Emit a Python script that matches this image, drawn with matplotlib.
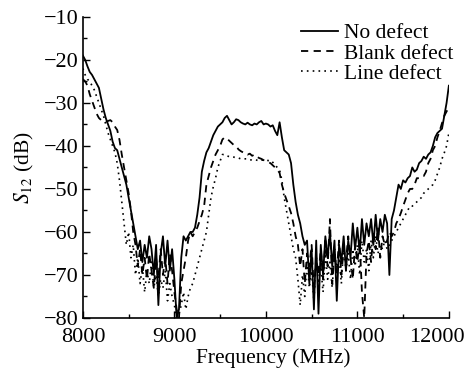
import numpy as np
import matplotlib
matplotlib.use("Agg")
import matplotlib.pyplot as plt
from matplotlib.ticker import MultipleLocator
from matplotlib.transforms import ScaledTranslation

# frequency grid (MHz), 25 MHz step, 8 points per row below
freq = np.arange(8000, 12001, 25)
x_ticks = [8000, 9000, 10000, 11000, 12000]

no_defect = [
    -19, -20, -21.5, -22.8, -23.5, -24.5, -25.5, -26.5,      # 8000
    -29, -31.5, -33.5, -35, -36.5, -39, -40.5, -41,          # 8200
    -43, -45, -47, -49, -52, -55, -58, -61,                  # 8400
    -64, -62, -67, -63, -66, -61, -64, -70,                  # 8600
    -63, -77, -65, -61, -68, -62, -69, -64,                  # 8800
    -71, -80, -78, -66, -61, -62, -61, -60,                  # 9000
    -60, -59, -56, -52, -46, -43.5, -41.5, -40.5,            # 9200
    -39, -37.5, -36.5, -35.5, -35, -34.5, -33.5, -33,        # 9400
    -34, -35, -34.5, -33.8, -34, -34.5, -34.8, -35,          # 9600
    -34.6, -35, -35.2, -34.8, -35, -34.5, -34.2, -35,        # 9800
    -34.8, -35, -35.5, -35.2, -36.5, -37.5, -34.5, -38,      # 10000
    -41, -41.5, -42, -44, -49, -53, -56, -58,                # 10200
    -61, -63, -62, -72, -64, -78, -62, -79,                  # 10400
    -63, -70, -61, -66, -60, -68, -62, -76,                  # 10600
    -63, -67, -61, -69, -62, -66, -58, -64,                  # 10800
    -59, -65, -57, -63, -58, -61, -57, -63,                  # 11000
    -56, -62, -57, -60, -56, -58, -70, -57,                  # 11200
    -55, -52, -49, -50, -48, -48.5, -47.5, -47,              # 11400
    -45, -46, -45.5, -44, -43.5, -42.5, -43, -42,            # 11600
    -41.5, -40, -38, -37, -36.5, -36, -33, -30,              # 11800
    -26,                                                     # 12000
]

blank_defect = [
    -24.5, -25, -26, -28, -29.5, -31, -32.5, -33.5,          # 8000
    -34, -34.3, -34.4, -34.2, -34, -34.5, -35.5, -36.3,      # 8200
    -38.6, -42, -45, -48, -51, -55, -60, -63,                # 8400
    -68, -64, -70, -66, -71, -65, -69, -73,                  # 8600
    -66, -71, -64, -70, -66, -72, -65, -69,                  # 8800
    -74, -78, -80, -72, -69, -66, -62, -60,                  # 9000
    -61, -60, -59, -57.5, -56, -54, -49, -47,                # 9200
    -45, -43.5, -42, -41, -40, -38.5, -38, -38.3,            # 9400
    -38.8, -39.3, -39.8, -40, -40.8, -41.2, -41.5, -41.5,    # 9600
    -42, -41.8, -42.3, -42, -42.5, -42.8, -43, -43.3,        # 9800
    -43.5, -43.8, -44, -44.5, -45, -45.5, -46.3, -49,        # 10000
    -51, -52.5, -54, -55.6, -58, -61, -63, -68,              # 10200
    -64, -72, -65, -68, -63, -74, -66, -70,                  # 10400
    -64, -71, -62, -68, -57, -72, -65, -69,                  # 10600
    -62, -70, -64, -67, -61, -66, -71, -63,                  # 10800
    -67, -62, -74, -80, -65, -62, -67, -60,                  # 11000
    -64, -59, -66, -61, -63, -62, -60, -61,                  # 11200
    -60, -58, -57, -55.6, -54, -52.5, -51, -50,              # 11400
    -50, -49, -47.5, -47.5, -47, -47, -46, -44,              # 11600
    -43, -41, -40, -38, -36.5, -34.7, -33, -32,              # 11800
    -31,                                                     # 12000
]

line_defect = [
    -22, -23.5, -24.5, -25, -26, -27, -28.5, -30,            # 8000
    -31.5, -33, -35, -37, -38.5, -40, -41.5, -44,            # 8200
    -48, -53, -58, -63, -60, -66, -63, -70,                  # 8400
    -66, -72, -68, -74, -69, -72, -67, -73,                  # 8600
    -70, -75, -71, -73, -69, -76, -72, -75,                  # 8800
    -77, -80, -79, -77, -74, -78, -75, -73,                  # 9000
    -72, -70, -68, -66, -64, -62, -60, -56,                  # 9200
    -52, -49.5, -47.5, -45, -43.5, -42, -42, -42.3,          # 9400
    -42.5, -42.5, -42.6, -42.8, -42.8, -43, -43, -43,        # 9600
    -43, -43.2, -43.3, -43.2, -43.3, -43.5, -43.3, -43.3,    # 9800
    -43.3, -43.4, -43.3, -43.8, -44.5, -45, -45.6, -48,      # 10000
    -52, -55, -58, -61, -64, -66, -71, -77,                  # 10200
    -70, -75, -67, -73, -69, -76, -66, -72,                  # 10400
    -68, -74, -65, -71, -67, -73, -64, -70,                  # 10600
    -66, -72, -63, -69, -65, -71, -64, -68,                  # 10800
    -63, -70, -62, -67, -64, -69, -62, -66,                  # 11000
    -61, -65, -63, -64, -62, -64, -63, -62,                  # 11200
    -61, -60, -59, -58, -57, -56, -55, -54,                  # 11400
    -54, -53.5, -53, -52.5, -52, -51, -50.5, -50,            # 11600
    -49.5, -49, -48, -46.5, -45, -43, -41.6, -40,            # 11800
    -37,                                                     # 12000
]

labels = ["No defect", "Blank defect", "Line defect"]

plt.rcParams["font.family"] = ["Liberation Serif", "DejaVu Serif"]
plt.rcParams["mathtext.fontset"] = "stix"
plt.rcParams["font.size"] = 15.5

fig = plt.figure(figsize=(4.71, 3.75), dpi=100)
ax = fig.add_axes([0.176, 0.152, 0.777, 0.803])

ax.plot(freq, no_defect, color="black", lw=1.3, ls="-", label=labels[0])
ax.plot(freq, blank_defect, color="black", lw=1.3, ls=(0, (4, 3)), label=labels[1])
ax.plot(freq, line_defect, color="black", lw=1.2, ls=(0, (1, 2.5)), label=labels[2])

ax.set_xlim(8000, 12000)
ax.set_ylim(-80, -10)
ax.set_xticks(x_ticks)
ax.xaxis.set_minor_locator(MultipleLocator(500))
ax.yaxis.set_major_locator(MultipleLocator(10))
ax.yaxis.set_minor_locator(MultipleLocator(5))
ax.tick_params(which="both", direction="in", top=False, right=False, width=1)
ax.tick_params(which="major", length=5, labelsize=16)
ax.tick_params(which="minor", length=3)
ax.tick_params(axis="x", which="major", pad=7)
ax.tick_params(axis="y", which="major", pad=3)
for s in ["top", "right"]:
    ax.spines[s].set_visible(False)
for s in ["left", "bottom"]:
    ax.spines[s].set_linewidth(1.2)

# last x tick label pulled left so it stays inside the figure
fig.canvas.draw()
for lab in ax.get_xticklabels():
    if lab.get_text() == "12000":
        lab.set_transform(lab.get_transform() + ScaledTranslation(-12 / 100, 0, fig.dpi_scale_trans))

ax.set_xlabel("Frequency (MHz)", fontsize=15.5)
ax.xaxis.set_label_coords(0.519, -0.1)
ax.xaxis.label.set_va("top")
ax.set_ylabel("$S_{12}$ (dB)", fontsize=15.5, labelpad=6)

ax.legend(loc="upper right", frameon=False, fontsize=15.5, handlelength=1.75,
          handletextpad=0.25, labelspacing=0.0, borderaxespad=0,
          bbox_to_anchor=(1.035, 1.007))

fig.savefig("out.png", dpi=100)
